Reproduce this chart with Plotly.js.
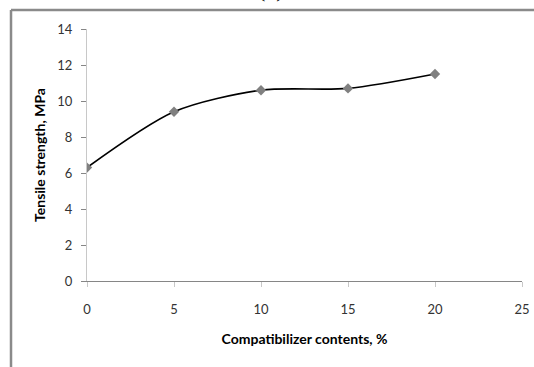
<!DOCTYPE html>
<html>
<head>
<meta charset="utf-8">
<script src="https://cdn.plot.ly/plotly-3.0.1.min.js"></script>
<style>html,body{margin:0;padding:0;background:#fff;}#chart{width:534px;height:367px;}</style>
</head>
<body>
<div id="chart"></div>
<script>
// Data
var compatibilizer = [0, 5, 10, 15, 20];
var tensileStrength = [6.3, 9.4, 10.6, 10.7, 11.5];
var xTicks = [0, 5, 10, 15, 20, 25];
var yTicks = [0, 2, 4, 6, 8, 10, 12, 14];

var trace = {
  x: compatibilizer,
  y: tensileStrength,
  type: 'scatter',
  mode: 'lines+markers',
  line: {color: '#000000', width: 1.6, shape: 'spline', smoothing: 0.8},
  marker: {symbol: 'diamond', size: 8, color: '#808080'},
  hoverinfo: 'skip'
};

var tickFont = {family: 'Lato, "Liberation Sans", sans-serif', size: 13, color: '#333333'};
var titleFont = {family: 'Lato, "Liberation Sans", sans-serif', size: 14, color: '#000000', weight: 'bold'};

var layout = {
  width: 534, height: 367,
  margin: {l: 87, r: 12, t: 29, b: 86},
  paper_bgcolor: '#ffffff', plot_bgcolor: '#ffffff',
  showlegend: false,
  xaxis: {
    range: [0, 25], tickvals: xTicks, ticktext: xTicks.map(String),
    showgrid: false, zeroline: false,
    showline: true, linecolor: '#868686', linewidth: 1,
    ticks: 'outside', ticklen: 5, tickcolor: '#c8c8c8', tickwidth: 1,
    ticklabelstandoff: 11,
    tickfont: tickFont,
    title: {text: 'Compatibilizer contents, %', font: titleFont, standoff: 18}
  },
  yaxis: {
    range: [0, 14], tickvals: yTicks, ticktext: yTicks.map(String),
    showgrid: false, zeroline: false,
    showline: true, linecolor: '#c8c8c8', linewidth: 1,
    ticks: 'outside', ticklen: 5, tickcolor: '#868686', tickwidth: 1,
    ticklabelstandoff: 6,
    tickfont: tickFont,
    title: {text: 'Tensile strength, MPa', font: titleFont, standoff: 8}
  },
  shapes: [
    {type: 'line', xref: 'paper', yref: 'paper', x0: -0.1747, x1: 1.05, y0: 1.075, y1: 1.075,
     line: {color: '#8a8a8a', width: 2.5}},
    {type: 'line', xref: 'paper', yref: 'paper', x0: -0.1747, x1: -0.1747, y0: 1.075, y1: -0.36,
     line: {color: '#8a8a8a', width: 2.5}}
  ],
  annotations: [
    {text: '(b)', xref: 'paper', yref: 'paper', x: 0.423, y: 1.098, xanchor: 'center', yanchor: 'bottom',
     showarrow: false, font: {family: '"Liberation Serif", serif', size: 22, color: '#000'}}
  ]
};

Plotly.newPlot('chart', [trace], layout, {displayModeBar: false, staticPlot: true});
</script>
</body>
</html>
